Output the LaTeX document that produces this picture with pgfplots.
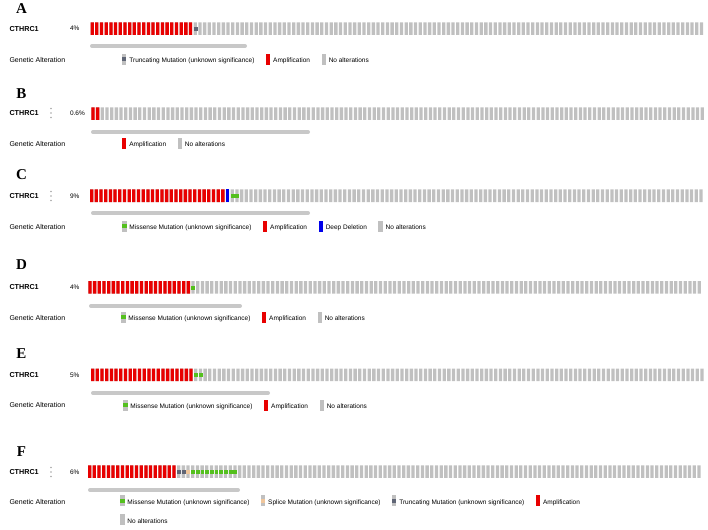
\documentclass[border=0pt]{standalone}
\usepackage{fontspec}
\setmainfont{Liberation Sans}
\newfontfamily\tnr{Liberation Serif}
\usepackage{pgfplots}
\usepackage{pgfplotstable}
\pgfplotsset{compat=1.18}

\definecolor{ampred}{RGB}{232,0,0}
\definecolor{nogray}{RGB}{192,192,192}
\definecolor{deepblue}{RGB}{0,0,235}
\definecolor{misgreen}{RGB}{84,192,30}
\definecolor{trunc}{RGB}{96,102,118}
\definecolor{splice}{RGB}{240,198,155}
\definecolor{scroll}{RGB}{200,200,200}

% one row per sample shown in each oncoprint (i = sample, v = bar height)
\pgfplotstableread[row sep=\\]{i v\\
0 1\\1 1\\2 1\\3 1\\4 1\\5 1\\6 1\\7 1\\8 1\\9 1\\10 1\\11 1\\12 1\\13 1\\14 1\\15 1\\16 1\\17 1\\18 1\\19 1\\
20 1\\21 1\\22 1\\23 1\\24 1\\25 1\\26 1\\27 1\\28 1\\29 1\\30 1\\31 1\\32 1\\33 1\\34 1\\35 1\\36 1\\37 1\\38 1\\39 1\\
40 1\\41 1\\42 1\\43 1\\44 1\\45 1\\46 1\\47 1\\48 1\\49 1\\50 1\\51 1\\52 1\\53 1\\54 1\\55 1\\56 1\\57 1\\58 1\\59 1\\
60 1\\61 1\\62 1\\63 1\\64 1\\65 1\\66 1\\67 1\\68 1\\69 1\\70 1\\71 1\\72 1\\73 1\\74 1\\75 1\\76 1\\77 1\\78 1\\79 1\\
80 1\\81 1\\82 1\\83 1\\84 1\\85 1\\86 1\\87 1\\88 1\\89 1\\90 1\\91 1\\92 1\\93 1\\94 1\\95 1\\96 1\\97 1\\98 1\\99 1\\
100 1\\101 1\\102 1\\103 1\\104 1\\105 1\\106 1\\107 1\\108 1\\109 1\\110 1\\111 1\\112 1\\113 1\\114 1\\115 1\\
116 1\\117 1\\118 1\\119 1\\120 1\\121 1\\122 1\\123 1\\124 1\\125 1\\126 1\\127 1\\128 1\\129 1\\130 1\\
}\sampletab

\pgfplotsset{
  onco/.style={scale only axis, width=614pt, height=12.5pt,
    xmin=-0.5, xmax=130.5, ymin=0, ymax=1, axis lines=none,
    anchor=north west, clip=false, legend columns=-1, legend cell align=left,
    legend style={draw=none, fill=none, inner sep=0pt, anchor=west,
      font=\fontsize{6.5}{7.5}\selectfont,
      /tikz/every even column/.append style={column sep=9.5pt},
      /tikz/every odd column/.append style={column sep=1.5pt}}},
  cna/.style={ybar, bar width=0.7, bar shift=0pt, draw=none, fill=#1, forget plot},
  mut/.style={only marks, color=#1, mark=square*, mark size=1.45pt,
    mark options={solid, line width=0.3pt}, forget plot},
  leg/.style={legend image code/.code={\fill[#1] (0pt,-2.7pt) rectangle (3.3pt,7.3pt);}},
  legmut/.style={legend image code/.code={\fill[nogray] (0pt,-2.7pt) rectangle (3.3pt,7.3pt);
      \fill[#1] (0pt,0.7pt) rectangle (3.3pt,3.9pt);}},
}

\newcommand\gene[4]{% letter, letter y, row y, percent
  \node[font=\tnr\bfseries\fontsize{15}{17}\selectfont] at (21.5pt,-#2pt) {#1};
  \node[anchor=west, font=\bfseries\fontsize{7.2}{8}\selectfont] at (6pt,-#3pt) {CTHRC1};
  \node[anchor=west, font=\fontsize{6.5}{7.5}\selectfont] at (66.5pt,-#3pt) {#4};}
\newcommand\menudots[1]{%
  \foreach \d in {-4.5,0,4.5} \fill[gray!70] (51pt,-#1pt+\d pt) circle (0.8pt);}
\newcommand\genalt[1]{%
  \node[anchor=west, font=\fontsize{7}{8}\selectfont] at (6pt,-#1pt) {Genetic Alteration};}
\newcommand\scrollbar[3]{%
  \draw[scroll, line width=4pt, line cap=round] (#1pt+2pt,-#3pt) -- (#2pt-2pt,-#3pt);}

\begin{document}
\begin{tikzpicture}
\useasboundingbox (0,0) rectangle (708pt,-529pt);

% ---------------- A
\gene{A}{8.5}{28.7}{4\%}
\genalt{60}
\scrollbar{90}{247}{46}
\begin{axis}[onco, at={(89.8pt,-22.5pt)},
  legend style={at={(axis description cs:0.0524,-2.0)}}]
\addplot[cna=nogray] table[x=i, y=v] {\sampletab};
\addplot[cna=ampred] coordinates {(0,1)(1,1)(2,1)(3,1)(4,1)(5,1)(6,1)(7,1)(8,1)(9,1)(10,1)
  (11,1)(12,1)(13,1)(14,1)(15,1)(16,1)(17,1)(18,1)(19,1)(20,1)(21,1)};
\addplot[mut=trunc] coordinates {(22,0.5)};
\addlegendimage{legmut=trunc}\addlegendentry{Truncating Mutation (unknown significance)}
\addlegendimage{leg=ampred}\addlegendentry{Amplification}
\addlegendimage{leg=nogray}\addlegendentry{No alterations}
\end{axis}

% ---------------- B
\gene{B}{93.5}{113}{0.6\%}
\menudots{113}
\genalt{144}
\scrollbar{91}{310}{132}
\begin{axis}[onco, at={(90.6pt,-107.3pt)},
  legend style={at={(axis description cs:0.0511,-1.94)}}]
\addplot[cna=nogray] table[x=i, y=v] {\sampletab};
\addplot[cna=ampred] coordinates {(0,1)(1,1)};
\addlegendimage{leg=ampred}\addlegendentry{Amplification}
\addlegendimage{leg=nogray}\addlegendentry{No alterations}
\end{axis}

% ---------------- C
\gene{C}{175}{196}{9\%}
\menudots{196}
\genalt{226.5}
\scrollbar{91}{310}{213}
\begin{axis}[onco, at={(89.3pt,-189.5pt)},
  legend style={at={(axis description cs:0.0533,-2.0)}}]
\addplot[cna=nogray] table[x=i, y=v] {\sampletab};
\addplot[cna=ampred] coordinates {(0,1)(1,1)(2,1)(3,1)(4,1)(5,1)(6,1)(7,1)(8,1)(9,1)(10,1)
  (11,1)(12,1)(13,1)(14,1)(15,1)(16,1)(17,1)(18,1)(19,1)(20,1)(21,1)(22,1)(23,1)(24,1)
  (25,1)(26,1)(27,1)(28,1)};
\addplot[cna=deepblue] coordinates {(29,1)};
\addplot[mut=misgreen] coordinates {(30,0.5)(31,0.5)};
\addlegendimage{legmut=misgreen}\addlegendentry{Missense Mutation (unknown significance)}
\addlegendimage{leg=ampred}\addlegendentry{Amplification}
\addlegendimage{leg=deepblue}\addlegendentry{Deep Deletion}
\addlegendimage{leg=nogray}\addlegendentry{No alterations}
\end{axis}

% ---------------- D
\gene{D}{265}{287.5}{4\%}
\genalt{318}
\scrollbar{89}{242}{306}
\begin{axis}[onco, at={(87.6pt,-281pt)},
  legend style={at={(axis description cs:0.0544,-1.96)}}]
\addplot[cna=nogray] table[x=i, y=v] {\sampletab};
\addplot[cna=ampred] coordinates {(0,1)(1,1)(2,1)(3,1)(4,1)(5,1)(6,1)(7,1)(8,1)(9,1)(10,1)
  (11,1)(12,1)(13,1)(14,1)(15,1)(16,1)(17,1)(18,1)(19,1)(20,1)(21,1)};
\addplot[mut=misgreen] coordinates {(22,0.5)};
\addlegendimage{legmut=misgreen}\addlegendentry{Missense Mutation (unknown significance)}
\addlegendimage{leg=ampred}\addlegendentry{Amplification}
\addlegendimage{leg=nogray}\addlegendentry{No alterations}
\end{axis}

% ---------------- E
\gene{E}{354}{375}{5\%}
\genalt{405}
\scrollbar{91}{270}{393}
\begin{axis}[onco, at={(90.3pt,-368.5pt)},
  legend style={at={(axis description cs:0.0533,-2.0)}}]
\addplot[cna=nogray] table[x=i, y=v] {\sampletab};
\addplot[cna=ampred] coordinates {(0,1)(1,1)(2,1)(3,1)(4,1)(5,1)(6,1)(7,1)(8,1)(9,1)(10,1)
  (11,1)(12,1)(13,1)(14,1)(15,1)(16,1)(17,1)(18,1)(19,1)(20,1)(21,1)};
\addplot[mut=misgreen] coordinates {(22,0.5)(23,0.5)};
\addlegendimage{legmut=misgreen}\addlegendentry{Missense Mutation (unknown significance)}
\addlegendimage{leg=ampred}\addlegendentry{Amplification}
\addlegendimage{leg=nogray}\addlegendentry{No alterations}
\end{axis}

% ---------------- F
\gene{F}{452}{472}{6\%}
\menudots{472}
\genalt{502}
\scrollbar{88}{240}{490}
\begin{axis}[onco, at={(87.3pt,-465.3pt)}, legend columns=4,
  legend style={at={(axis description cs:0.0533,-2.66)}, /tikz/row sep=6pt}]
\addplot[cna=nogray] table[x=i, y=v] {\sampletab};
\addplot[cna=ampred] coordinates {(0,1)(1,1)(2,1)(3,1)(4,1)(5,1)(6,1)(7,1)(8,1)(9,1)(10,1)
  (11,1)(12,1)(13,1)(14,1)(15,1)(16,1)(17,1)(18,1)};
\addplot[mut=trunc] coordinates {(19,0.5)(20,0.5)};
\addplot[mut=splice] coordinates {(21,0.5)};
\addplot[mut=misgreen] coordinates {(22,0.5)(23,0.5)(24,0.5)(25,0.5)(26,0.5)(27,0.5)
  (28,0.5)(29,0.5)(30,0.5)(31,0.5)};
\addlegendimage{legmut=misgreen}\addlegendentry{Missense Mutation (unknown significance)}
\addlegendimage{legmut=splice}\addlegendentry{Splice Mutation (unknown significance)}
\addlegendimage{legmut=trunc}\addlegendentry{Truncating Mutation (unknown significance)}
\addlegendimage{leg=ampred}\addlegendentry{Amplification}
\addlegendimage{leg=nogray}\addlegendentry{No alterations}
\end{axis}
\end{tikzpicture}
\end{document}
